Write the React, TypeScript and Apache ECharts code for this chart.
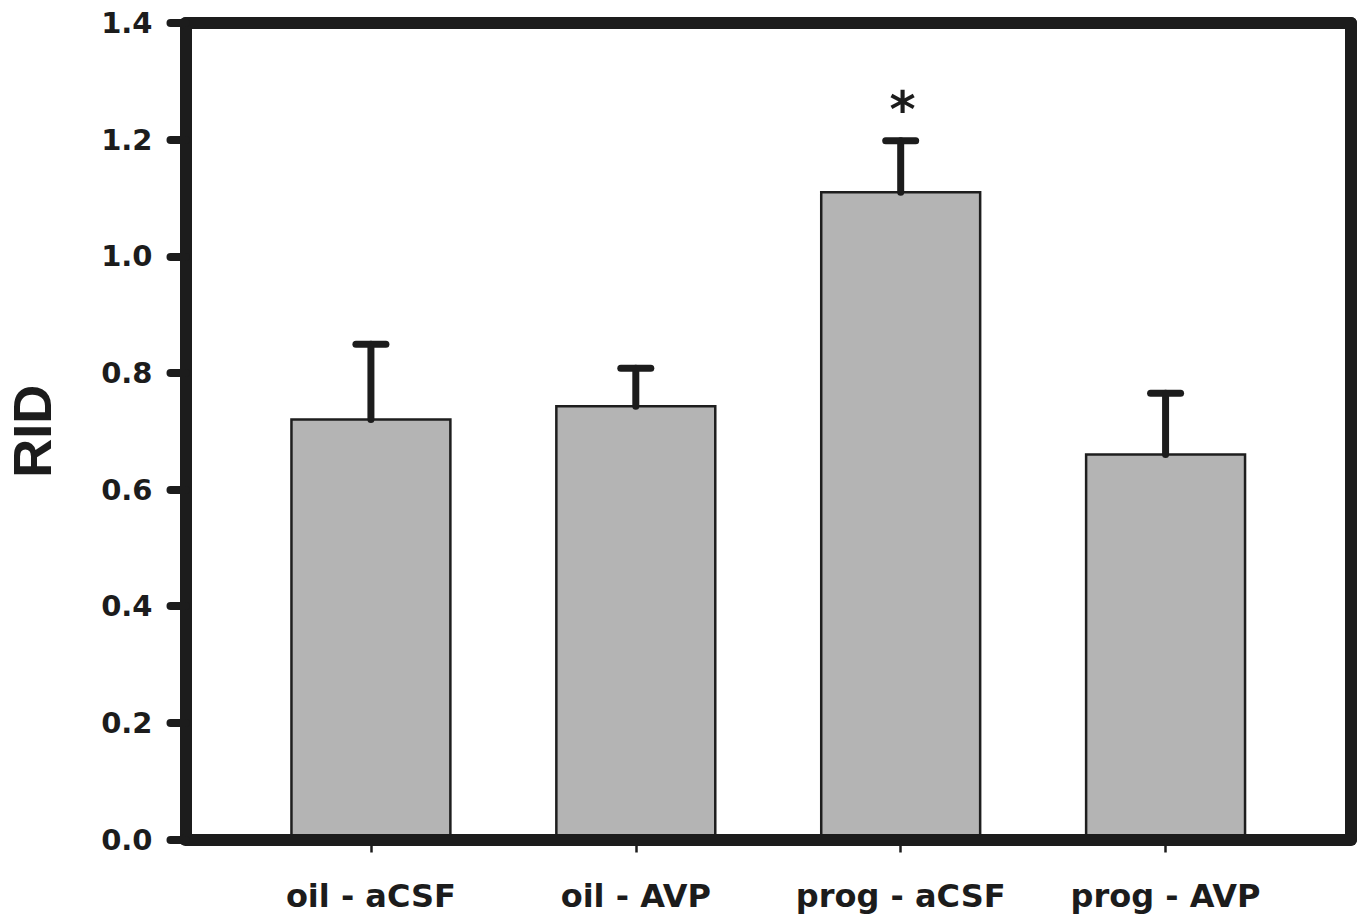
import React, { useEffect, useRef } from "react";
import * as echarts from "echarts";

const categories = ["oil - aCSF", "oil - AVP", "prog - aCSF", "prog - AVP"];
const positions = [1, 2, 3, 4];
const means = [0.72, 0.743, 1.11, 0.66];
const errorTops = [0.849, 0.808, 1.198, 0.765];
const marks = ["", "", "*", ""];

const INK = "#1c1c1c";
const FONT = "'DejaVu Sans', sans-serif";

export default function App() {
  const ref = useRef<HTMLDivElement>(null);

  useEffect(() => {
    if (!ref.current) return;
    const chart = echarts.init(ref.current, null, { renderer: "svg" });

    const barData = positions.map((p, i) => [p, means[i]]);
    const errData = positions.map((p, i) => [p, means[i], errorTops[i]]);

    const frameLine = { show: true, lineStyle: { color: INK, width: 12, cap: "round" } };

    chart.setOption({
      animation: false,
      backgroundColor: "#ffffff",
      grid: {
        left: 185.5,
        right: 12,
        top: 23,
        bottom: 78.5,
        containLabel: false,
        outerBoundsMode: "none",
      },
      xAxis: [
        {
          type: "value",
          position: "bottom",
          min: 0.3,
          max: 4.7,
          z: 10,
          splitLine: { show: false },
          axisLine: { ...frameLine, onZero: false },
          axisTick: {
            show: true,
            customValues: positions,
            length: 13,
            lineStyle: { color: INK, width: 2.5 },
          },
          axisLabel: {
            show: true,
            customValues: positions,
            formatter: (v: number) => categories[Math.round(v) - 1] ?? "",
            margin: 40,
            color: INK,
            fontFamily: FONT,
            fontWeight: "bold",
            fontSize: 32,
          },
        },
        {
          type: "value",
          position: "top",
          min: 0.3,
          max: 4.7,
          z: 10,
          splitLine: { show: false },
          axisLine: { ...frameLine, onZero: false },
          axisTick: { show: false },
          axisLabel: { show: false },
        },
      ],
      yAxis: [
        {
          type: "value",
          position: "left",
          min: 0,
          max: 1.4,
          interval: 0.2,
          z: 10,
          splitLine: { show: false },
          axisLine: { ...frameLine, onZero: false },
          axisTick: {
            show: true,
            length: 15,
            lineStyle: { color: INK, width: 8, cap: "round" },
          },
          axisLabel: {
            margin: 33,
            color: INK,
            fontFamily: FONT,
            fontWeight: "bold",
            fontSize: 29,
            formatter: (v: number) => v.toFixed(1),
          },
          name: "RID",
          nameLocation: "middle",
          nameRotate: 90,
          nameGap: 127,
          nameTextStyle: {
            color: INK,
            fontFamily: "'Liberation Sans', Arial, sans-serif",
            fontWeight: "bold",
            fontSize: 54,
            lineHeight: 54,
          },
        },
        {
          type: "value",
          position: "right",
          min: 0,
          max: 1.4,
          interval: 0.2,
          z: 10,
          splitLine: { show: false },
          axisLine: { ...frameLine, onZero: false },
          axisTick: { show: false },
          axisLabel: { show: false },
        },
      ],
      series: [
        {
          type: "custom",
          xAxisIndex: 0,
          yAxisIndex: 0,
          z: 2,
          data: barData,
          renderItem: (params: any, api: any) => {
            const x = api.value(0);
            const y = api.value(1);
            const top = api.coord([x, y]);
            const base = api.coord([x, 0]);
            const w = api.size([0.6, 0])[0];
            return {
              type: "rect",
              shape: { x: top[0] - w / 2, y: top[1], width: w, height: base[1] - top[1] },
              style: { fill: "#b4b4b4", stroke: "#1e1e1e", lineWidth: 2.5 },
            };
          },
        },
        {
          type: "custom",
          xAxisIndex: 0,
          yAxisIndex: 0,
          z: 3,
          data: errData,
          renderItem: (params: any, api: any) => {
            const x = api.value(0);
            const lo = api.coord([x, api.value(1)]);
            const hi = api.coord([x, api.value(2)]);
            const capHalf = 15;
            const children: any[] = [
              {
                type: "line",
                shape: { x1: lo[0], y1: lo[1], x2: hi[0], y2: hi[1] },
                style: { stroke: INK, lineWidth: 7, lineCap: "round" },
              },
              {
                type: "line",
                shape: { x1: hi[0] - capHalf, y1: hi[1], x2: hi[0] + capHalf, y2: hi[1] },
                style: { stroke: INK, lineWidth: 7, lineCap: "round" },
              },
            ];
            const m = marks[params.dataIndex];
            if (m) {
              children.push({
                type: "text",
                x: hi[0] + 2,
                y: hi[1] - 31,
                style: {
                  text: m,
                  fill: INK,
                  font: `bold 50px ${FONT}`,
                  align: "center",
                  verticalAlign: "middle",
                },
              });
            }
            return { type: "group", children };
          },
        },
      ],
    });

    return () => chart.dispose();
  }, []);

  return (
    <div
      ref={ref}
      style={{ position: "fixed", left: 0, top: 0, width: 1363, height: 918, background: "#fff" }}
    />
  );
}
